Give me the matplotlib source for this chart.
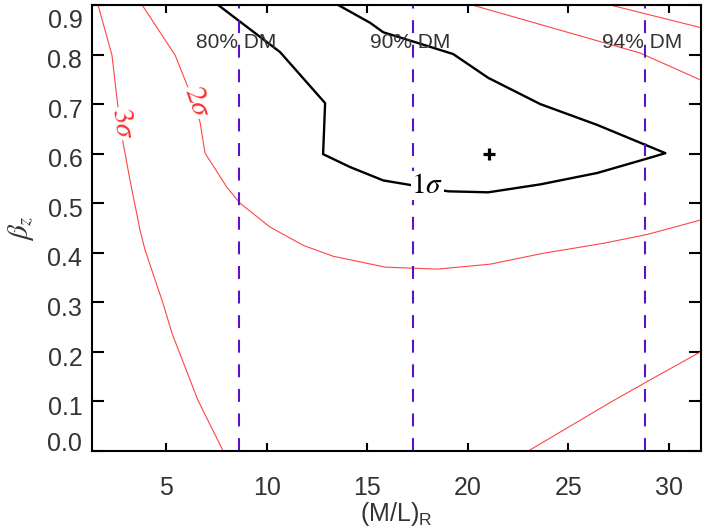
import matplotlib
matplotlib.use("Agg")
import matplotlib.pyplot as plt
import matplotlib.transforms as mtransforms

plt.rcParams['font.family'] = ['Liberation Sans', 'DejaVu Sans']
plt.rcParams['mathtext.fontset'] = 'custom'
plt.rcParams['mathtext.rm'] = 'Liberation Sans'

# 1 sigma contour (black)
sig1_x = [7.59, 10.67, 12.91, 12.81, 14.15, 15.80, 19.03, 21.02, 23.61, 26.44, 28.83, 29.83,
          26.44, 23.61, 21.02, 19.28, 17.39, 15.80, 15.15, 13.56]
sig1_y = [0.90, 0.805, 0.702, 0.599, 0.573, 0.546, 0.524, 0.522, 0.538, 0.561, 0.589, 0.601,
          0.658, 0.700, 0.753, 0.801, 0.825, 0.845, 0.864, 0.90]

# 2 sigma contour (red)
sig2_x = [3.81, 5.45, 6.09, 6.69, 6.94, 8.03, 8.68, 10.17, 11.82, 13.31, 15.90, 18.48,
          21.12, 23.76, 26.74, 28.93, 31.57]
sig2_y = [0.90, 0.799, 0.734, 0.664, 0.601, 0.532, 0.500, 0.452, 0.415, 0.393, 0.371, 0.367,
          0.377, 0.399, 0.419, 0.437, 0.466]

# 3 sigma contour (red)
sig3_x = [1.62, 2.31, 2.61, 2.86, 3.21, 3.71, 3.96, 4.85, 5.30, 6.59, 7.84]
sig3_y = [0.90, 0.799, 0.694, 0.623, 0.546, 0.445, 0.405, 0.298, 0.237, 0.102, 0.0]

# other red contour pieces
low_x = [23.01, 27.09, 28.83, 31.62]
low_y = [0.0, 0.098, 0.138, 0.201]
upA_x = [20.22, 28.58, 31.62]
upA_y = [0.90, 0.803, 0.748]
upB_x = [27.09, 31.62]
upB_y = [0.90, 0.854]

# dark matter fractions
dm_x = [8.65, 17.30, 28.83]
dm_labels = ['80% DM', '90% DM', '94% DM']

best_x, best_y = 21.07, 0.60

sig_labels = [r'$\mathit{1}\sigma$', r'$\mathit{2}\sigma$', r'$\mathit{3}\sigma$']
sig_lab_x = [17.99, 6.57, 2.86]
sig_lab_y = [0.536, 0.705, 0.661]
sig_lab_rot = [0, -71, -82]
sig_lab_col = ['black', '#ff3030', '#ff3030']

red = '#ff4545'
gray = '#333333'

fig = plt.figure(figsize=(7.09, 5.32), dpi=100)
ax = fig.add_axes([0.1298, 0.1523, 0.8589, 0.8383])

ax.plot(sig3_x, sig3_y, color=red, lw=0.8)
ax.plot(sig2_x, sig2_y, color=red, lw=0.8)
ax.plot(low_x, low_y, color=red, lw=0.8)
ax.plot(upA_x, upA_y, color=red, lw=0.8)
ax.plot(upB_x, upB_y, color=red, lw=0.8)
ax.plot(sig1_x, sig1_y, color='black', lw=1.7)

for x in dm_x:
    ax.axvline(x, color='#5a14c8', lw=1.5, dashes=(6.2, 5.6))
for x, lab in zip(dm_x, dm_labels):
    ax.text(x - 0.15, 0.824, lab, ha='center', va='center', fontsize=15, color=gray)

ax.plot(best_x, best_y, marker='+', ms=9, mew=2.3, color='black')

for lab, x, y, r, c in zip(sig_labels, sig_lab_x, sig_lab_y, sig_lab_rot, sig_lab_col):
    ax.text(x, y, lab, ha='center', va='center', rotation=r, fontsize=21, color=c,
            math_fontfamily='stix', rotation_mode='anchor',
            bbox=dict(facecolor='white', edgecolor='none', pad=0.5))

ax.set_xlim(1.32, 31.6)
ax.set_ylim(0, 0.9)
ax.set_xticks([5, 10, 15, 20, 25, 30])
ax.set_yticks([0.0, 0.1, 0.2, 0.3, 0.4, 0.5, 0.6, 0.7, 0.8, 0.9])
ax.set_yticklabels(['%.1f' % v for v in ax.get_yticks()])

for s in ax.spines.values():
    s.set_linewidth(1.5)
ax.tick_params(axis='x', direction='in', top=True, length=6, width=1.5, pad=18,
               labelsize=18, labelcolor=gray)
ax.tick_params(axis='y', direction='in', right=True, length=8.6, width=1.5, pad=7,
               labelsize=18, labelcolor=gray)

# shift y tick labels like the original
ylabs = ax.get_yticklabels()
for i, t in enumerate(ylabs):
    dy = -3
    if i == 0:
        dy = 6.5
    if i == len(ylabs) - 1:
        dy = -10
    t.set_transform(t.get_transform() + mtransforms.ScaledTranslation(0, dy / 72, fig.dpi_scale_trans))

ax.set_xlabel(r'(M/L)$_\mathrm{R}$', fontsize=18, color=gray, labelpad=0)
ax.set_ylabel(r'$\beta_z$', fontsize=21, color=gray, labelpad=8, math_fontfamily='stix')

fig.savefig('out.png', dpi=100)
